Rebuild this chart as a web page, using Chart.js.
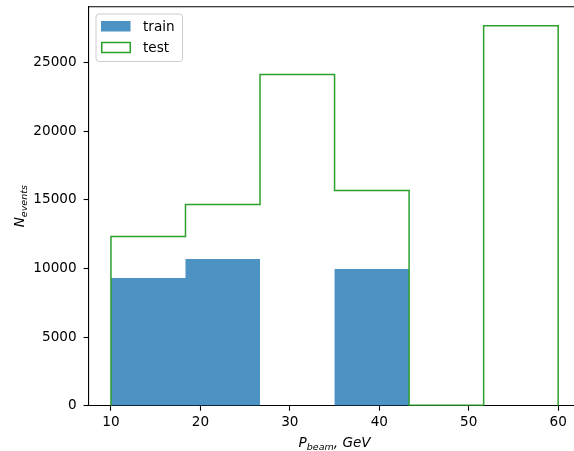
<!DOCTYPE html>
<html>
<head>
<meta charset="utf-8">
<script src="https://cdn.jsdelivr.net/npm/chart.js@4.4.1/dist/chart.umd.min.js"></script>
<style>
  html, body { margin: 0; padding: 0; background: #fff; overflow: hidden; }
  canvas { display: block; }
</style>
</head>
<body>
<canvas id="c" width="574" height="451"></canvas>
<script>
// Histogram of beam momentum: six equal bins between 10 and 60 GeV
const binEdges = [10, 18.333, 26.667, 35, 43.333, 51.667, 60];
const trainCounts = [9314, 10700, 0, 9971, 0, 0];
const testCounts = [12330, 14660, 24140, 15680, 40, 27700];
const xTicks = [10, 20, 30, 40, 50, 60];
const yTicks = [0, 5000, 10000, 15000, 20000, 25000];
const seriesNames = ['train', 'test'];

const FONT = "'DejaVu Sans', 'Liberation Sans', sans-serif";
const FS = 13.6;
const trainColor = 'rgba(31,119,180,0.8)';
const testColor = '#2ca02c';

// Turn bin edges + counts into a closed step outline
function stepOutline(edges, counts) {
  const pts = [{ x: edges[0], y: 0 }];
  counts.forEach((c, i) => {
    pts.push({ x: edges[i], y: c }, { x: edges[i + 1], y: c });
  });
  pts.push({ x: edges[edges.length - 1], y: 0 });
  return pts;
}

const framePlugin = {
  id: 'frame',
  afterDraw(chart) {
    const { ctx, chartArea: a } = chart;
    ctx.save();
    // top spine (the right one falls just outside the canvas)
    ctx.strokeStyle = '#000';
    ctx.lineWidth = 1.1;
    ctx.beginPath();
    ctx.moveTo(a.left, a.top);
    ctx.lineTo(a.right, a.top);
    ctx.stroke();

    // legend box
    const lx = 96, ly = 14, lw = 86.5, lh = 47.5, r = 3;
    ctx.beginPath();
    ctx.moveTo(lx + r, ly);
    ctx.arcTo(lx + lw, ly, lx + lw, ly + lh, r);
    ctx.arcTo(lx + lw, ly + lh, lx, ly + lh, r);
    ctx.arcTo(lx, ly + lh, lx, ly, r);
    ctx.arcTo(lx, ly, lx + lw, ly, r);
    ctx.closePath();
    ctx.fillStyle = 'rgba(255,255,255,0.8)';
    ctx.fill();
    ctx.strokeStyle = '#cccccc';
    ctx.lineWidth = 1;
    ctx.stroke();

    ctx.fillStyle = trainColor;
    ctx.fillRect(101, 21, 29.5, 10.5);
    ctx.strokeStyle = testColor;
    ctx.lineWidth = 1.5;
    ctx.strokeRect(101.75, 42.5, 28.5, 10);

    ctx.fillStyle = '#000';
    ctx.font = FS + 'px ' + FONT;
    ctx.textBaseline = 'alphabetic';
    ctx.textAlign = 'left';
    ctx.fillText(seriesNames[0], 143, 31);
    ctx.fillText(seriesNames[1], 143, 52);

    // axis titles with subscripts
    const big = 'italic ' + FS + 'px ' + FONT;
    const small = 'italic ' + (FS * 0.7) + 'px ' + FONT;
    // x title: P_beam, GeV
    ctx.font = big; const wP = ctx.measureText('P').width;
    ctx.font = small; const wB = ctx.measureText('beam').width;
    ctx.font = big; const wG = ctx.measureText(', GeV').width;
    let x = 334.6 - (wP + wB + wG) / 2;
    const by = 447;
    ctx.font = big; ctx.fillText('P', x, by); x += wP;
    ctx.font = small; ctx.fillText('beam', x, by + 3); x += wB;
    ctx.font = big; ctx.fillText(', GeV', x, by);

    // y title: N_events, rotated
    ctx.translate(24, (a.top + a.bottom) / 2);
    ctx.rotate(-Math.PI / 2);
    ctx.font = big; const wN = ctx.measureText('N').width;
    ctx.font = small; const wE = ctx.measureText('events').width;
    let t = -(wN + wE) / 2;
    ctx.font = big; ctx.fillText('N', t, 0); t += wN;
    ctx.font = small; ctx.fillText('events', t, 3);
    ctx.restore();
  }
};

const tickFont = { family: FONT, size: FS };

new Chart(document.getElementById('c'), {
  type: 'scatter',
  data: {
    datasets: [
      {
        label: seriesNames[1],
        type: 'line',
        data: stepOutline(binEdges, testCounts),
        borderColor: testColor,
        borderWidth: 1.5,
        fill: false,
        pointRadius: 0,
        tension: 0,
        order: 0
      },
      {
        label: seriesNames[0],
        type: 'line',
        data: stepOutline(binEdges, trainCounts),
        borderColor: 'rgba(0,0,0,0)',
        borderWidth: 0,
        backgroundColor: trainColor,
        fill: 'origin',
        pointRadius: 0,
        tension: 0,
        order: 1
      }
    ]
  },
  options: {
    responsive: false,
    animation: false,
    devicePixelRatio: 1,
    layout: { padding: { top: 6.7, right: 0, left: 0, bottom: 0 } },
    plugins: { legend: { display: false }, tooltip: { enabled: false } },
    scales: {
      x: {
        type: 'linear',
        min: 7.5,
        max: 61.77,
        afterBuildTicks(scale) { scale.ticks = xTicks.map(v => ({ value: v })); },
        afterFit(scale) {
          scale.height = 45.3;
          scale.paddingLeft = 0; scale.paddingRight = 0;
          scale.paddingTop = 0; scale.paddingBottom = 0;
        },
        ticks: { font: tickFont, color: '#000', padding: 4, maxRotation: 0 },
        grid: { drawOnChartArea: false, drawTicks: true, tickLength: 5, tickColor: '#000', tickWidth: 1.1 },
        border: { display: true, color: '#000', width: 1.1 }
      },
      y: {
        type: 'linear',
        min: 0,
        max: 29085,
        afterBuildTicks(scale) { scale.ticks = yTicks.map(v => ({ value: v })); },
        afterFit(scale) {
          scale.width = 88.6;
          scale.paddingLeft = 0; scale.paddingRight = 0;
          scale.paddingTop = 0; scale.paddingBottom = 0;
        },
        ticks: { font: tickFont, color: '#000', padding: 7, callback: v => String(v) },
        grid: { drawOnChartArea: false, drawTicks: true, tickLength: 5, tickColor: '#000', tickWidth: 1.1 },
        border: { display: true, color: '#000', width: 1.1 }
      }
    }
  },
  plugins: [framePlugin]
});
</script>
</body>
</html>
